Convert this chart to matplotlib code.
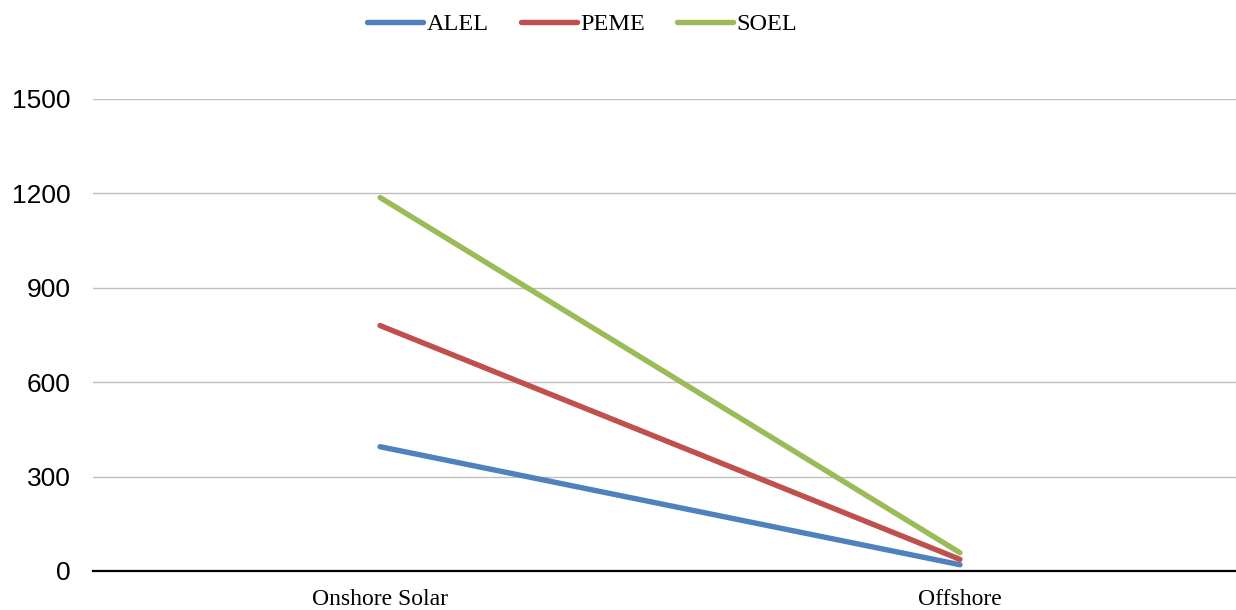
import matplotlib.pyplot as plt

# data
categories = ['Onshore Solar', 'Offshore']
alel = [395, 20]
peme = [780, 37]
soel = [1187, 58]
yticks = [0, 300, 600, 900, 1200, 1500]

fig = plt.figure(figsize=(12.36, 6.10), dpi=100)
ax = fig.add_axes([93/1236, 1 - 571/610, (1236 - 93)/1236, (571 - 99)/610])

x = list(range(len(categories)))
l1, = ax.plot(x, alel, color='#4F81BD', lw=3.9, solid_capstyle='round', label='ALEL')
l2, = ax.plot(x, peme, color='#C0504D', lw=3.9, solid_capstyle='round', label='PEME')
l3, = ax.plot(x, soel, color='#9BBB59', lw=3.9, solid_capstyle='round', label='SOEL')

ax.set_xlim(-0.495, 1.476)
ax.set_ylim(0, 1500)
ax.set_yticks(yticks)
ax.set_yticklabels([str(v) for v in yticks], fontsize=19, family='Liberation Sans')
ax.set_xticks(x)
ax.set_xticklabels(categories, fontsize=17, family='Liberation Serif')
ax.tick_params(axis='both', length=0)
ax.tick_params(axis='y', pad=16)
ax.tick_params(axis='x', pad=13)

ax.grid(axis='y', color='#BFBFBF', lw=1)
ax.set_axisbelow(True)
for s in ['top', 'right', 'left']:
    ax.spines[s].set_visible(False)
ax.spines['bottom'].set_color('black')
ax.spines['bottom'].set_linewidth(1.6)
ax.spines['bottom'].set_zorder(5)

fig.legend(handles=[l1, l2, l3], loc='center', bbox_to_anchor=(0.471, 1 - 24/610),
           ncol=3, frameon=False, handlelength=2.3, handletextpad=0.15, columnspacing=1.3,
           prop={'family': 'Liberation Serif', 'size': 17.5})

fig.savefig('out.png', dpi=100)
